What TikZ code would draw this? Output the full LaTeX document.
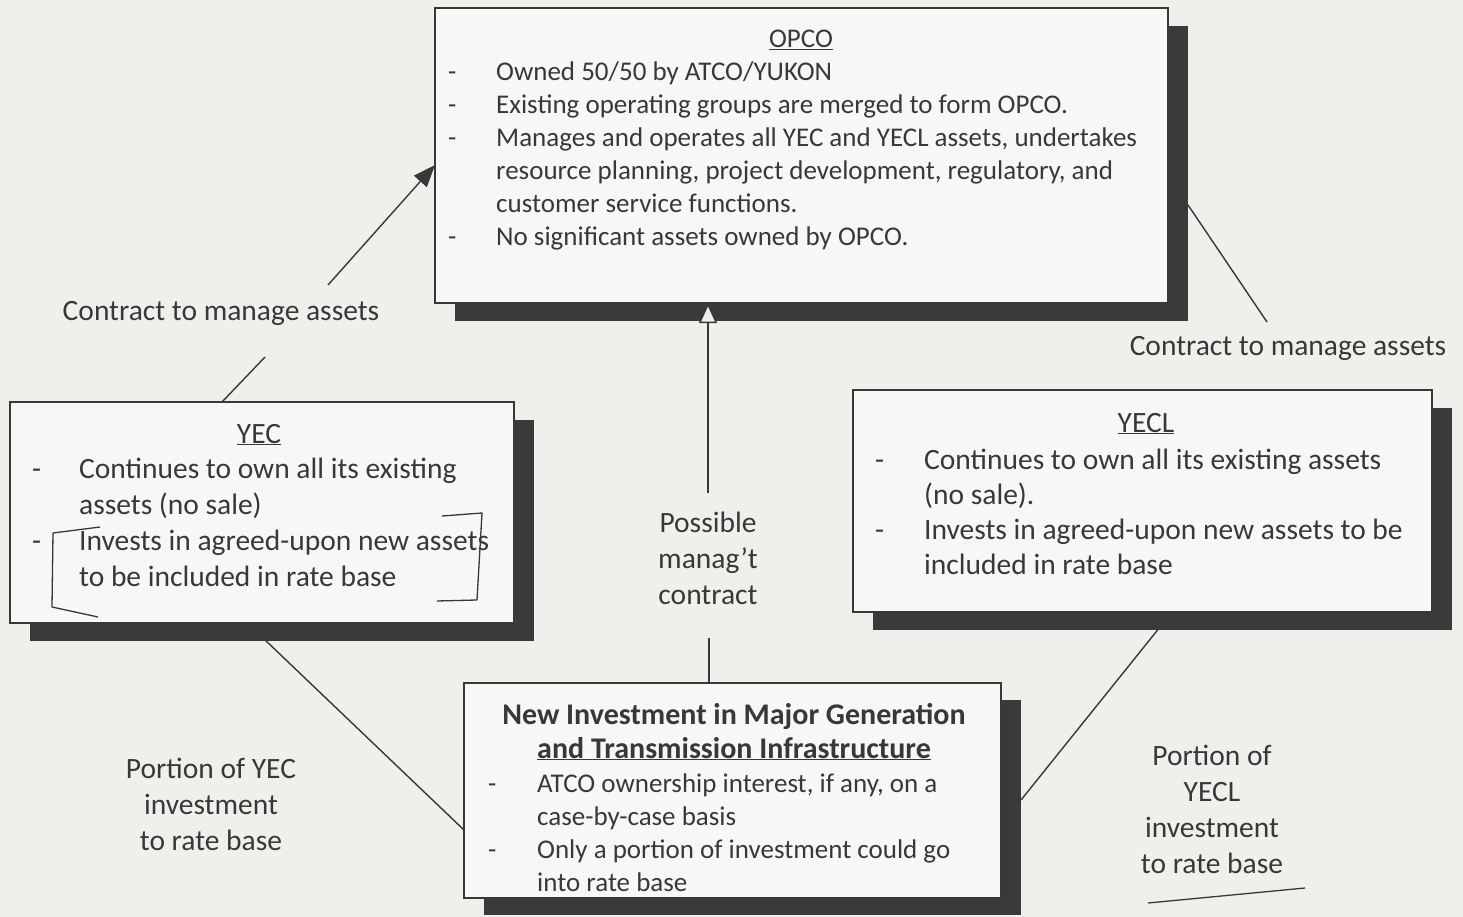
\documentclass[tikz,border=0pt]{standalone}
\usepackage{fontspec}
\setmainfont{Carlito}
\usetikzlibrary{arrows.meta,calc}
\definecolor{bg}{HTML}{EFEFEC}
\definecolor{boxfill}{HTML}{F7F7F5}
\definecolor{ink}{HTML}{383838}
\definecolor{shade}{HTML}{3A3A3A}
\newcommand{\fsA}{\fontsize{27}{33}\selectfont}
\newcommand{\fsB}{\fontsize{29.5}{36}\selectfont}
\newcommand{\fsC}{\fontsize{29.5}{35.3}\selectfont}
\newcommand{\fsT}{\fontsize{30}{34}\selectfont}
\begin{document}
\begin{tikzpicture}[x=1pt,y=-1pt,
  box/.style={draw=ink, line width=1.8pt, fill=boxfill, anchor=north west, inner sep=0pt, outer sep=0pt},
  shad/.style={fill=shade, anchor=north west, inner sep=0pt, outer sep=0pt},
  conn/.style={draw=ink, line width=1.4pt},
  body/.style={anchor=base west, inner sep=0pt, text=ink, align=left},
  ttl/.style={anchor=base, inner sep=0pt, text=ink},
  lbl/.style={text=ink, align=center, inner sep=0pt, font=\fsB},
]
\fill[bg] (0,0) rectangle (1463,917);
\useasboundingbox (0,0) rectangle (1463,917);

% shadows and boxes
\node[shad, minimum width=733pt, minimum height=295pt] (opcosh) at (455,26) {};
\node[box,  minimum width=733pt, minimum height=295pt] (opco) at (435,8) {};
\node[shad, minimum width=504pt, minimum height=221pt] (yecsh) at (30,420) {};
\node[box,  minimum width=504pt, minimum height=221pt] (yec) at (10,402) {};
\node[shad, minimum width=579pt, minimum height=222pt] (yeclsh) at (873,408) {};
\node[box,  minimum width=579pt, minimum height=222pt] (yecl) at (853,390) {};
\node[shad, minimum width=537pt, minimum height=215pt] (nivsh) at (484,700) {};
\node[box,  minimum width=537pt, minimum height=215pt] (niv) at (464,683) {};

% OPCO text
\node[ttl, font=\fsA] (opcot) at (801,48) {\underline{OPCO}};
\node[body, font=\fsA] (opcob) at (448,81) {\begin{tabular}[t]{@{}p{48pt}@{}l@{}}
-&Owned 50/50 by ATCO/YUKON\\
-&Existing operating groups are merged to form OPCO.\\
-&Manages and operates all YEC and YECL assets, undertakes\\
&resource planning, project development, regulatory, and\\
&customer service functions.\\
-&No significant assets owned by OPCO.
\end{tabular}};

% YEC text
\node[ttl, font=\fsB] (yect) at (259,443) {\underline{YEC}};
\node[body, font=\fsB] (yecb) at (32,478) {\begin{tabular}[t]{@{}p{47pt}@{}l@{}}
-&Continues to own all its existing\\
&assets (no sale)\\
-&Invests in agreed-upon new assets\\
&to be included in rate base
\end{tabular}};

% YECL text
\node[ttl, font=\fsB] (yeclt) at (1146,432) {\underline{YECL}};
\node[body, font=\fsC] (yeclb) at (875,469) {\begin{tabular}[t]{@{}p{49pt}@{}l@{}}
-&Continues to own all its existing assets\\
&(no sale).\\
-&Invests in agreed-upon new assets to be\\
&included in rate base
\end{tabular}};

% New investment text
\node[ttl, font=\fsT\bfseries] (nivt1) at (734,724) {New Investment in Major Generation};
\node[ttl, font=\fsT\bfseries] (nivt2) at (734,758) {\underline{and Transmission Infrastructure}};
\node[body, font=\fsA] (nivb) at (488,792) {\begin{tabular}[t]{@{}p{49pt}@{}l@{}}
-&ATCO ownership interest, if any, on a\\
&case-by-case basis\\
-&Only a portion of investment could go\\
&into rate base
\end{tabular}};

% labels
\node[lbl] (lblL) at (221,313) {Contract to manage assets};
\node[lbl] (lblR) at (1288,348) {Contract to manage assets};
\node[lbl] (lblM) at (708,558) {Possible\\manag’t\\contract};
\node[lbl] (lblYEC) at (211,804) {Portion of YEC\\investment\\to rate base};
\node[lbl] (lblYECL) at (1212,809) {Portion of\\YECL\\investment\\to rate base};

% connectors
\coordinate (cL1) at (265,357);
\coordinate (cL2) at (328,285);
\coordinate (cR) at (1267,322);
\coordinate (cM1) at (709,638);
\coordinate (cM2) at (708,493);
\draw[conn] ($(yec.north west)+(212,0)$) -- (cL1);
\draw[conn, -{Triangle[length=22pt,width=17pt]}] (cL2) -- ($(opco.north west)+(0,157)$);
\draw[conn] ($(opcosh.north east)+(0,179)$) -- (cR);
\draw[conn] ($(niv.north west)+(245,0)$) -- (cM1);
\draw[conn, -{Triangle[open,fill=bg,length=20pt,width=18pt]}] (cM2) -- ($(opco.south west)+(273,0)$);
\draw[conn] ($(yecsh.south west)+(233,-3)$) -- ($(niv.north west)+(0,147)$);
\draw[conn] ($(yeclsh.south west)+(287,-3)$) -- ($(nivsh.north east)+(0,100)$);

% hand-drawn marks
\draw[ink, line width=1.3pt, line join=round] (100,527) -- (53,533) -- (52,607) -- (98,617);
\draw[ink, line width=1.3pt, line join=round] (442,516) -- (482,513) -- (477,600) -- (437,601);
\draw[ink, line width=1.3pt] (1148,903) -- (1305,888);
\end{tikzpicture}
\end{document}
